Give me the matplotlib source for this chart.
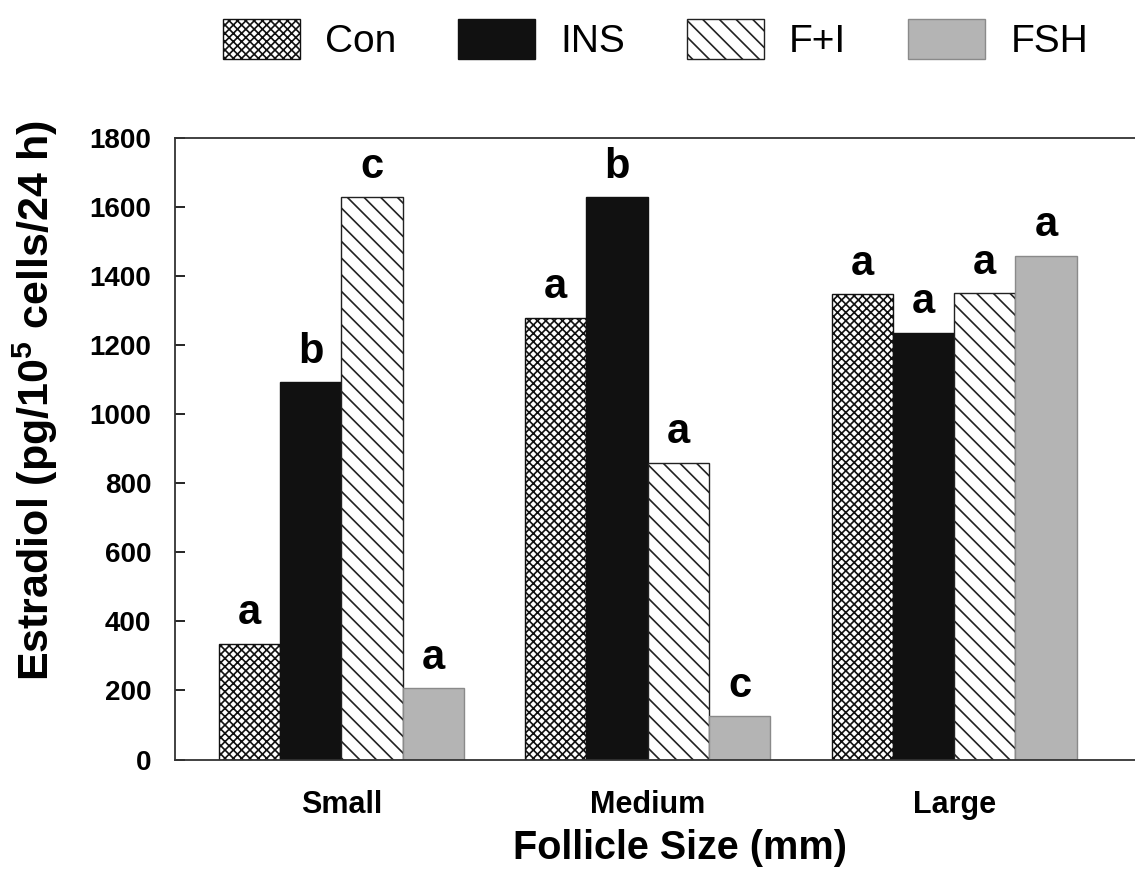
import numpy as np
import matplotlib
matplotlib.use("Agg")
import matplotlib.pyplot as plt
from matplotlib import font_manager

# ---- data ----
groups = ["Small", "Medium", "Large"]
series = ["Con", "INS", "F+I", "FSH"]
con = [335, 1280, 1349]
ins = [1093, 1630, 1237]
fpi = [1630, 860, 1351]
fsh = [207, 126, 1460]
let_con = ["a", "a", "a"]
let_ins = ["b", "b", "a"]
let_fpi = ["c", "a", "a"]
let_fsh = ["a", "c", "a"]
yticks = [0, 200, 400, 600, 800, 1000, 1200, 1400, 1600, 1800]

names = {f.name for f in font_manager.fontManager.ttflist}
base = "Liberation Sans" if "Liberation Sans" in names else "DejaVu Sans"
narrow = "Liberation Sans Narrow" if "Liberation Sans Narrow" in names else base

plt.rcParams["font.family"] = [base, "DejaVu Sans"]
plt.rcParams["mathtext.fontset"] = "custom"
plt.rcParams["mathtext.rm"] = base + ":bold"
plt.rcParams["mathtext.bf"] = base + ":bold"
plt.rcParams["hatch.linewidth"] = 1.2

fig = plt.figure(figsize=(11.35, 8.81), dpi=100)
ax = fig.add_axes([0.1542, 0.1379, 1 - 0.1542, 0.7051])

x = np.arange(len(groups)) * 5.0
w = 1.0
styles = [
    dict(facecolor="white", edgecolor="#111111", hatch="xxxx"),
    dict(facecolor="#111111", edgecolor="#111111"),
    dict(facecolor="white", edgecolor="#222222", hatch="\\\\"),
    dict(facecolor="#b4b4b4", edgecolor="#8a8a8a"),
]
data = [con, ins, fpi, fsh]
letters = [let_con, let_ins, let_fpi, let_fsh]
handles = []
for i, (vals, st, lets) in enumerate(zip(data, styles, letters)):
    pos = x + (i - 1.5) * w
    b = ax.bar(pos, vals, width=w, linewidth=1.0, label=series[i], **st)
    handles.append(b)
    for px, v, l in zip(pos, vals, lets):
        ax.annotate(l, (px, v), xytext=(0, 14), textcoords="offset points",
                    ha="center", va="baseline", fontsize=30, fontweight="bold")

ax.set_xlim(-2.714, 12.95)
ax.set_ylim(0, 1800)
ax.set_yticks(yticks)
ax.set_yticklabels([str(t) for t in yticks], fontsize=20, fontweight="bold")
ax.set_xticks(x)
ax.set_xticklabels(groups, fontsize=22, fontweight="bold")
ax.tick_params(axis="y", direction="in", length=7, width=1.2, pad=17)
ax.tick_params(axis="x", length=0, pad=22)
ax.spines["right"].set_visible(False)
for s in ["left", "top", "bottom"]:
    ax.spines[s].set_linewidth(1.3)
    ax.spines[s].set_color("#333333")

fig.text(35 / 1135, 1 - 401 / 881, r"Estradiol (pg/10$^{\mathbf{5}}$ cells/24 h)",
         rotation=90, ha="center", va="center", fontsize=31, fontweight="bold")
fig.text(680 / 1135, 1 - 848 / 881, "Follicle Size (mm)", ha="center", va="center",
         fontsize=28.5, fontweight="bold")

fig.legend(handles=handles, labels=series, ncol=4, loc="center",
           bbox_to_anchor=(0.5775, 0.955), frameon=False,
           prop={"family": narrow, "size": 28},
           handlelength=1.98, handleheight=1.21, handletextpad=0.64,
           columnspacing=1.6, borderpad=0)

fig.savefig("out.png", dpi=100)
